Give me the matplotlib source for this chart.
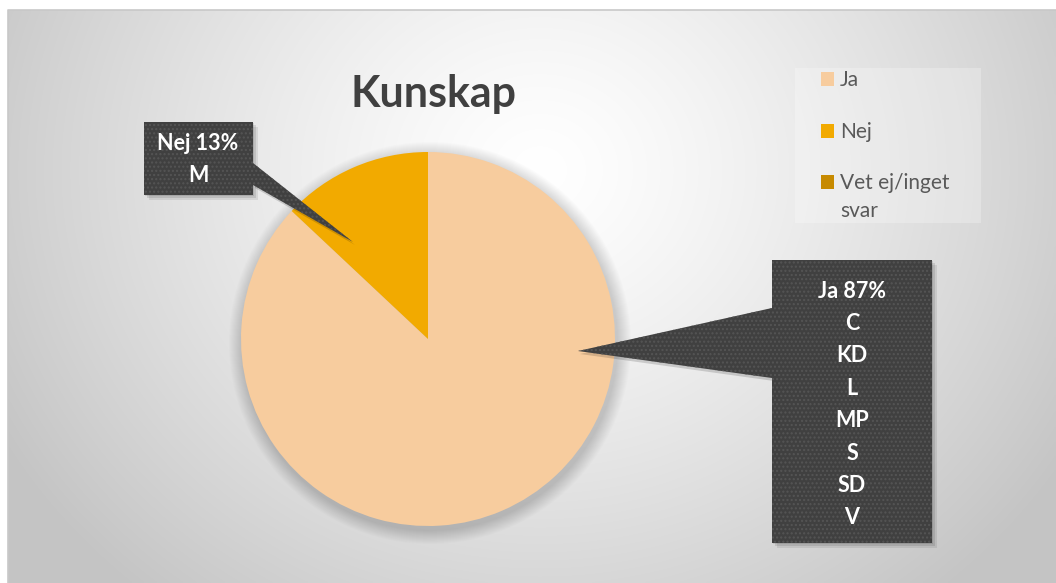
import numpy as np
import matplotlib
matplotlib.use("Agg")
import matplotlib.pyplot as plt
from matplotlib.patches import Rectangle, Polygon

# --- data ---
categories = ["Ja", "Nej", "Vet ej/inget svar"]
values = [87, 13, 0]
colors = ["#F7CC9E", "#F2AA00", "#C78A00"]
ja_parties = ["C", "KD", "L", "MP", "S", "SD", "V"]
nej_parties = ["M"]
title = "Kunskap"

W, H = 1056, 583
FONT = ["Lato", "DejaVu Sans"]

fig = plt.figure(figsize=(W / 100, H / 100), dpi=100)
fig.patch.set_facecolor("white")
ax = fig.add_axes([0, 0, 1, 1])
ax.set_xlim(0, W)
ax.set_ylim(0, H)
ax.axis("off")

def Y(y):  # pixel row (from top) -> data y
    return H - y

# --- background: radial gradient in chart area ---
x0, y0 = 8, 10
xs = np.linspace(x0, W, 400)
ys = np.linspace(y0, H, 240)
gx, gy = np.meshgrid(xs, ys)
d = np.hypot((gx - 540) / 1.0, (gy - 170) / 0.9)
v = 1.0 - 0.23 * np.clip(d / 620, 0, 1) ** 1.3
img = np.dstack([v, v, v])
ax.imshow(img, extent=[x0, W, Y(H), Y(y0)], origin="upper", zorder=0,
          interpolation="bilinear", aspect="auto")
ax.plot([x0, x0, W], [0, Y(y0), Y(y0)], color="#C8C8C8", lw=1.2, zorder=1)

# --- title ---
ax.text(433, Y(94), title, ha="center", va="center", fontsize=31,
        fontweight="bold", color="#404040", family=FONT, zorder=5)

# --- pie ---
cx, cy, r = 428, Y(339), 187
# soft shadow
for k in range(14, 0, -1):
    ax.add_patch(plt.Circle((cx + 2, cy - 4), r + k, color="black",
                            alpha=0.012, lw=0, zorder=2))
wedges, _ = ax.pie(values, colors=colors, startangle=90, counterclock=False,
                   center=(cx, cy), radius=r, frame=True,
                   wedgeprops=dict(linewidth=0))
for w in wedges:
    w.set_zorder(3)
ax.set_xlim(0, W)
ax.set_ylim(0, H)
ax.set_aspect("equal")
ax.axis("off")

# --- callouts ---
BOX = "#404040"
DOT = "#555555"
plt.rcParams["hatch.linewidth"] = 1.0

def callout(box, tip, base):
    bx0, by0, bx1, by1 = box  # pixel coords, top-left / bottom-right
    tri = [(tip[0], Y(tip[1])), (base[0][0], Y(base[0][1])),
           (base[1][0], Y(base[1][1]))]
    # shadow
    for k, a in ((5, 0.08), (3, 0.1), (1, 0.1)):
        ax.add_patch(Rectangle((bx0 + k, Y(by1 + k)), bx1 - bx0, by1 - by0,
                               facecolor="black", alpha=a, lw=0, zorder=6))
    ax.add_patch(Polygon([(x + 2, y - 3) for x, y in tri], closed=True,
                         facecolor="black", alpha=0.15, lw=0, zorder=6))
    ax.add_patch(Rectangle((bx0, Y(by1)), bx1 - bx0, by1 - by0,
                           facecolor=BOX, edgecolor=DOT, hatch="....",
                           lw=0, zorder=7))
    ax.add_patch(Polygon(tri, closed=True, facecolor=BOX, edgecolor=DOT,
                         hatch="....", lw=0, zorder=7))

# Nej
callout((144, 122, 253, 195), (353, 242), ((253, 163), (253, 185)))
nej_lines = [f"{categories[1]} {values[1]}%"] + nej_parties
for i, t in enumerate(nej_lines):
    ax.text(198, Y(143 + i * 32), t, ha="center", va="center", fontsize=15.5,
            fontweight="bold", color="white", family=FONT, zorder=8)

# Ja
callout((772, 260, 932, 543), (578, 351), ((772, 308), (772, 378)))
ja_lines = [f"{categories[0]} {values[0]}%"] + ja_parties
for i, t in enumerate(ja_lines):
    ax.text(852, Y(291 + i * 32.4), t, ha="center", va="center", fontsize=15.5,
            fontweight="bold", color="white", family=FONT, zorder=8)

# --- legend ---
ax.add_patch(Rectangle((795, Y(223)), 186, 155, facecolor="white", alpha=0.25,
                       lw=0, zorder=4))
leg_base = [86, 138, 189]
leg_text = ["Ja", "Nej", "Vet ej/inget\nsvar"]
for yb, t, c in zip(leg_base, leg_text, colors):
    ax.add_patch(Rectangle((821, Y(yb)), 13, 14, facecolor=c, lw=0,
                           zorder=5))
    for j, line in enumerate(t.split("\n")):
        ax.text(840, Y(yb + j * 28), line, ha="left", va="baseline",
                fontsize=15, color="#595959", family=FONT, zorder=5)

fig.savefig("out.png", dpi=100)
